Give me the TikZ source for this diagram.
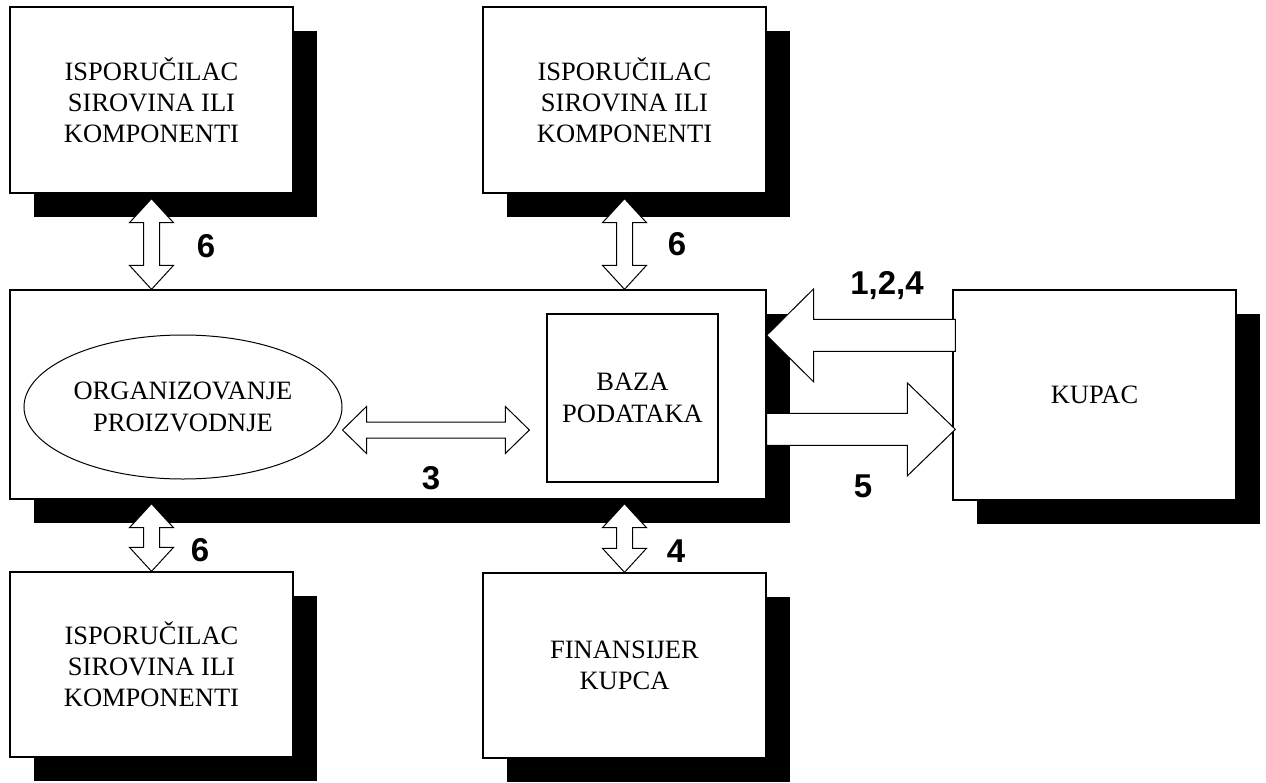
\documentclass[tikz,border=0pt]{standalone}
\usepackage{fontspec}
\setmainfont{Liberation Serif}
\newfontfamily\numfont{Liberation Sans}
\usetikzlibrary{calc,shapes.geometric,shadows}
\tikzset{
  box/.style={draw, fill=white, line width=1.3pt, rectangle, inner sep=0pt, align=center,
    font=\fontsize{26.5}{31}\selectfont},
  shbox/.style={box, drop shadow={shadow xshift=24pt, shadow yshift=-24pt, fill=black, opacity=1}},
  inbox/.style={draw, line width=1.3pt, inner sep=0pt, align=center, font=\fontsize{26.5}{32}\selectfont},
  barrow/.style={draw, fill=white, line width=1pt, line join=miter},
  lbl/.style={font=\numfont\bfseries\fontsize{33}{36}\selectfont, inner sep=0pt}
}
\newcommand\vdblarrow[2]{%
  \draw[barrow] (#1) -- ++(22,24) -- ++(-14,0) -- ($(#2)+(8,-24)$) -- ++(14,0) -- (#2)
     -- ++(-22,-24) -- ++(14,0) -- ($(#1)+(-8,24)$) -- ++(-14,0) -- cycle;}
\begin{document}
\begin{tikzpicture}[x=1pt,y=-1pt]
\useasboundingbox (0,0) rectangle (1266,782);
% boxes
\node[shbox, minimum width=283, minimum height=186] (tl) at (151.5,100) {ISPORUČILAC\\SIROVINA ILI\\KOMPONENTI};
\node[shbox, minimum width=283, minimum height=186] (tm) at (624.5,100) {ISPORUČILAC\\SIROVINA ILI\\KOMPONENTI};
\node[shbox, minimum width=756, minimum height=209] (main) at (388,394.5) {};
\node[shbox, minimum width=283, minimum height=210] (kupac) at (1094.5,395) {KUPAC};
\node[shbox, minimum width=283, minimum height=185] (bl) at (151.5,664.5) {ISPORUČILAC\\SIROVINA ILI\\KOMPONENTI};
\node[shbox, minimum width=283, minimum height=185] (fin) at (624.5,665.5) {FINANSIJER\\KUPCA};
% inner shapes
\node[inbox, minimum width=171, minimum height=168] (baza) at (632.5,398) {BAZA\\PODATAKA};
\node[inbox, ellipse, line width=1pt, minimum width=318, minimum height=144] (org) at (183,407) {ORGANIZOVANJE\\PROIZVODNJE};
% vertical double arrows
\coordinate (t1) at ($(tl.south)+(0,5)$);
\coordinate (b1) at (tl.south |- main.north);
\vdblarrow{t1}{b1}
\coordinate (t2) at ($(tm.south)+(0,5)$);
\coordinate (b2) at (tm.south |- main.north);
\vdblarrow{t2}{b2}
\coordinate (t3) at ($(main.south -| bl.north)+(0,4)$);
\vdblarrow{t3}{bl.north}
\coordinate (t4) at ($(main.south -| fin.north)+(0,4)$);
\vdblarrow{t4}{fin.north}
% arrow 1,2,4 (kupac -> main)
\coordinate (q1) at ($(kupac.north west)+(3,46)$);
\coordinate (p1) at (main.east |- q1);
\draw[barrow] ($(q1)+(0,-16)$) -- ($(p1)+(47,-16)$) -- ($(p1)+(47,-46.5)$) -- (p1)
   -- ($(p1)+(47,46.5)$) -- ($(p1)+(47,16)$) -- ($(q1)+(0,16)$) -- cycle;
% arrow 5 (main -> kupac)
\coordinate (q5) at ($(main.north east)+(0,140)$);
\coordinate (p5) at ($(q5 -| kupac.west)+(3,0)$);
\draw[barrow] ($(q5)+(0,-16)$) -- ($(p5)+(-48,-16)$) -- ($(p5)+(-48,-46.5)$) -- (p5)
   -- ($(p5)+(-48,46.5)$) -- ($(p5)+(-48,16)$) -- ($(q5)+(0,16)$) -- cycle;
% arrow 3 (org <-> baza)
\coordinate (L) at ($(org.east)+(0,23)$);
\coordinate (R) at ($(L -| baza.west)+(-17,0)$);
\draw[barrow] (L) -- ($(L)+(24,-23.5)$) -- ($(L)+(24,-8)$) -- ($(R)+(-24,-8)$) -- ($(R)+(-24,-23.5)$)
   -- (R) -- ($(R)+(-24,23.5)$) -- ($(R)+(-24,8)$) -- ($(L)+(24,8)$) -- ($(L)+(24,23.5)$) -- cycle;
% labels
\node[lbl] (l6a) at (206,246) {6};
\node[lbl] (l6b) at (677,244) {6};
\node[lbl] (l124) at (887,286) {1,2,4};
\node[lbl] (l3) at (431,478) {3};
\node[lbl] (l5) at (863,486) {5};
\node[lbl] (l6c) at (200,550) {6};
\node[lbl] (l4) at (676,551) {4};
\end{tikzpicture}
\end{document}
